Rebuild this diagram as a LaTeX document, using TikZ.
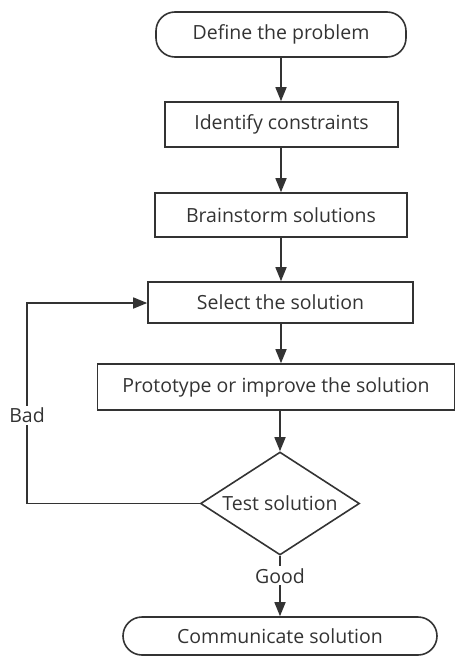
\documentclass[tikz,border=0pt]{standalone}
\usepackage{fontspec}
\setmainfont{Open Sans}
\usetikzlibrary{shapes.geometric,arrows.meta}
\definecolor{ink}{HTML}{333333}
\begin{document}
\begin{tikzpicture}[x=1pt,y=-1pt,
  every node/.style={text=ink,font=\fontsize{19.5}{22}\selectfont,inner sep=0pt},
  box/.style={draw=ink,line width=1.6pt,rectangle,minimum height=#1},
  box/.default=45pt,
  term/.style={draw=ink,line width=1.6pt,rectangle,rounded corners=19pt,minimum height=#1},
  term/.default=44pt,
  dec/.style={draw=ink,line width=1.6pt,diamond,shape aspect=1.54,minimum width=159pt,minimum height=103pt,inner sep=0pt},
  conn/.style={draw=ink,line width=1.6pt,-{Triangle[length=14pt,width=11pt]}},
  lbl/.style={fill=white,inner sep=2pt}]
\useasboundingbox (0,0) rectangle (456,656);
\node[term=45pt,minimum width=250pt] (define) at (281,34.5) {Define the problem};
\node[box,minimum width=233pt] (ident) at (281.5,124.5) {Identify constraints};
\node[box=44pt,minimum width=252pt] (brain) at (281,215) {Brainstorm solutions};
\node[box=41pt,minimum width=265pt] (select) at (280.5,302.5) {Select the solution};
\node[box=46pt,minimum width=357pt] (proto) at (276,387) {Prototype or improve the solution};
\node[dec] (test) at (280,503.5) {Test solution};
\node[term=38pt,minimum width=314pt] (comm) at (280,636) {Communicate solution};
\coordinate (c1) at (27,503.5);
\coordinate (c2) at (27,303);
\draw[conn] (define.south -| 281,0) -- (281,0 |- ident.north);
\draw[conn] (ident.south -| 281,0) -- (281,0 |- brain.north);
\draw[conn] (brain.south -| 281,0) -- (281,0 |- select.north);
\draw[conn] (select.south -| 281,0) -- (281,0 |- proto.north);
\draw[conn] (proto.south -| 280,0) -- (test.north);
\draw[conn] (test.south) -- (test.south |- comm.north) node[lbl,pos=0.33] (good) {Good};
\draw[conn] (test.west) -- (c1) -- (c2) node[lbl,pos=0.44] (bad) {Bad} -- (select.west |- c2);
\end{tikzpicture}
\end{document}
